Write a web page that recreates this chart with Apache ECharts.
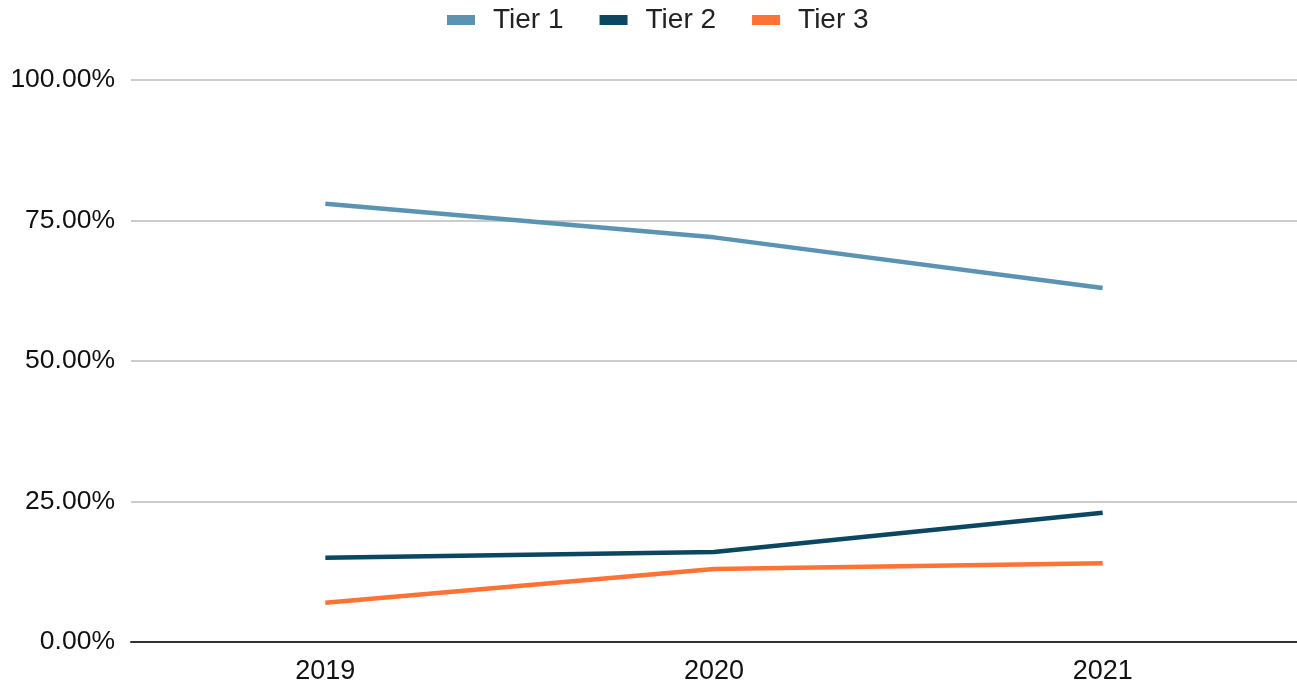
<!DOCTYPE html>
<html><head><meta charset="utf-8">
<script src="https://cdn.jsdelivr.net/npm/echarts@6/dist/echarts.min.js"></script>
<style>html,body{margin:0;padding:0;background:#fff}#c{width:1297px;height:688px}</style>
</head><body><div id="c"></div>
<script>
const categories = ['2019', '2020', '2021'];
const tier1 = [78, 72, 63];
const tier2 = [15, 16, 23];
const tier3 = [7, 13, 14];
const seriesNames = ['Tier 1', 'Tier 2', 'Tier 3'];
const colors = ['#5B93B3', '#0B4760', '#FF7235'];

const chart = echarts.init(document.getElementById('c'));
const font = '"Liberation Sans", Arial, sans-serif';
chart.setOption({
  animation: false,
  color: colors,
  textStyle: { fontFamily: font },
  legend: {
    top: 1, left: 442,
    itemWidth: 28, itemHeight: 10, itemGap: 36,
    icon: 'rect',
    textStyle: { fontSize: 28, color: '#222', fontFamily: font, padding: [0, 0, 0, 13] },
    data: seriesNames
  },
  grid: { left: 131, right: -7, top: 80, bottom: 46, containLabel: false },
  xAxis: {
    type: 'category', data: categories, boundaryGap: true,
    axisLine: { lineStyle: { color: '#333', width: 2 } },
    axisTick: { show: false },
    axisLabel: { fontSize: 27, color: '#111', margin: 16, fontFamily: font }
  },
  yAxis: {
    type: 'value', min: 0, max: 100, interval: 25,
    axisLine: { show: false }, axisTick: { show: false },
    splitLine: { lineStyle: { color: '#ccc', width: 2 } },
    axisLabel: { fontSize: 26.5, color: '#111', margin: 16, fontFamily: font,
      formatter: v => v.toFixed(2) + '%' }
  },
  series: [
    { name: seriesNames[0], type: 'line', data: tier1, symbol: 'none', lineStyle: { width: 4.5 } },
    { name: seriesNames[1], type: 'line', data: tier2, symbol: 'none', lineStyle: { width: 4.5 } },
    { name: seriesNames[2], type: 'line', data: tier3, symbol: 'none', lineStyle: { width: 4.5 } }
  ]
});
</script></body></html>
